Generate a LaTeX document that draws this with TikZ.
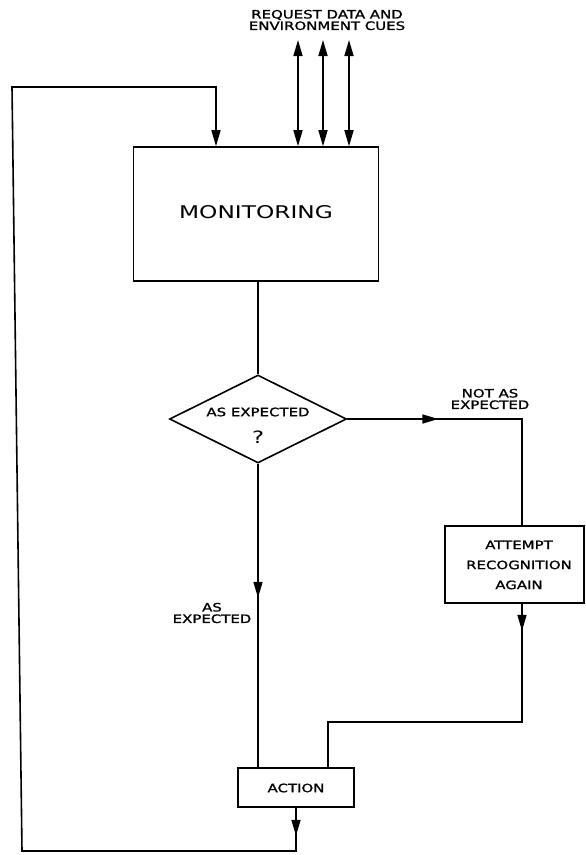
\documentclass[tikz,border=0pt]{standalone}
\usepackage{fontspec}
\setmainfont{DejaVu Sans}[FakeStretch=1.33]
\newfontfamily\plotfam{DejaVu Sans}[FakeStretch=1.3, FakeBold=1.3]
\usetikzlibrary{shapes.geometric,arrows.meta,decorations.markings}
\newcommand\smallfnt{\plotfam\fontsize{11.5pt}{11.5pt}\selectfont}
\newcommand\attfnt{\plotfam\fontsize{11.5pt}{20pt}\selectfont}
\newcommand\bigfnt{\fontsize{17.5pt}{18pt}\selectfont}
\tikzset{
  ln/.style={line width=1.6pt},
  tri/.tip={Triangle[length=16pt,width=9pt]},
  midarrow/.style={postaction={decorate},decoration={markings,mark=at position #1 with {\arrow{tri}}}},
  boxnode/.style={draw, line width=1.6pt, inner sep=0pt},
  lbl/.style={font=\smallfnt, align=center, inner sep=0pt},
}
\begin{document}
\begin{tikzpicture}[x=1pt,y=-1pt]
\useasboundingbox (0,0) rectangle (586,855);

% nodes
\node[lbl] (title) at (327,20) {REQUEST DATA AND\\ENVIRONMENT CUES};
\node[boxnode, minimum width=245pt, minimum height=134pt] (mon) at (256,214) {};
\node[font=\bigfnt, inner sep=0pt] (montxt) at (256,212) {MONITORING};
\node[draw, line width=1.6pt, diamond, minimum width=177pt, minimum height=88pt, inner sep=0pt] (dec) at (258,419) {};
\node[lbl] (dectxt) at (258,412) {AS EXPECTED};
\node[font=\fontsize{17pt}{17pt}\selectfont, inner sep=0pt] (q) at (258,437) {?};
\node[lbl] (notas) at (490,399) {NOT AS\\EXPECTED};
\node[boxnode, minimum width=139pt, minimum height=77pt] (att) at (514.5,564.5) {};
\node[lbl, font=\attfnt] (atttxt) at (519,565) {ATTEMPT\\RECOGNITION\\AGAIN};
\node[lbl] (ase) at (212,613) {AS\\EXPECTED};
\node[boxnode, minimum width=116pt, minimum height=39pt] (act) at (296,787.5) {};
\node[lbl] (acttxt) at (296,788) {ACTION};

% coordinates
\coordinate (i1) at (298,40);
\coordinate (i2) at (323,40);
\coordinate (i3) at (349,40);
\coordinate (rx) at (522,419);
\coordinate (j1) at (522,722);
\coordinate (j2) at (328,722);
\coordinate (lb) at (22,851);
\coordinate (lt) at (12,87);
\coordinate (ft) at (216,87);

% input arrows
\foreach \c in {i1,i2,i3}
  \draw[ln, {tri}-{tri}] (\c) -- (\c |- mon.north);

% monitoring to decision
\draw[ln] (dec.north |- mon.south) -- (dec.north);

% not as expected branch
\draw[ln, midarrow=91pt] (dec.east) -- (rx) -- (rx |- att.north);
\draw[ln, midarrow=27pt] (j1 |- att.south) -- (j1) -- (j2) -- (j2 |- act.north);

% as expected branch
\draw[ln, midarrow=134pt] (dec.south) -- (dec.south |- act.north);

% feedback loop
\draw[ln, midarrow=28pt, -{tri}] (act.south) -- (act.south |- lb) -- (lb) -- (lt) -- (ft) -- (ft |- mon.north);
\end{tikzpicture}
\end{document}
